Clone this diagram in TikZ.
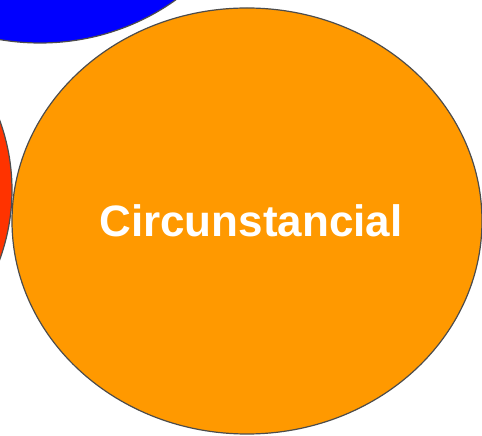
\documentclass[tikz,border=0pt]{standalone}
\usepackage{fontspec}
\setmainfont{Liberation Sans}
\usetikzlibrary{shapes.geometric}
\definecolor{setorange}{HTML}{FF9900}
\definecolor{setblue}{HTML}{0000FF}
\definecolor{setred}{HTML}{FF3300}

\begin{document}
\begin{tikzpicture}[x=1pt,y=1pt,blob/.style={ellipse,draw=black!70,line width=1.2pt,inner sep=0pt,minimum width=450pt,minimum height=426pt},label/.style={text=white,font=\bfseries\fontsize{44}{48}\selectfont}]
\useasboundingbox (0,0) rectangle (482,436);
\clip (0,0) rectangle (482,436);
\node[blob, fill=setblue] (forma) at (40,606) {};
\node[blob, fill=setred] (lugar) at (-213,246) {};
\node[blob, fill=setorange, minimum width=470pt] (circ) at (247,215) {};
\node[label] (circlabel) at (251,215) {Circunstancial};
\end{tikzpicture}
\end{document}
